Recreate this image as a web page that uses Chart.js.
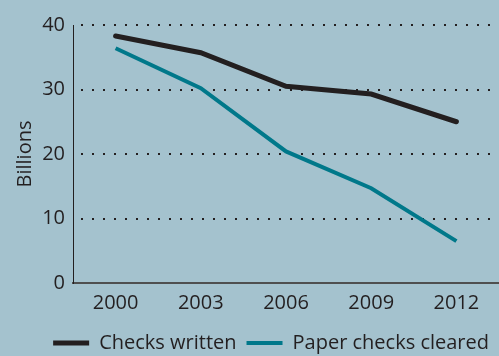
<!DOCTYPE html>
<html>
<head>
<meta charset="utf-8">
<script src="https://cdn.jsdelivr.net/npm/chart.js@4"></script>
<style>
  html, body { margin: 0; padding: 0; background: #a4c2ce; }
  canvas { display: block; }
</style>
</head>
<body>
<canvas id="c" width="499" height="356"></canvas>
<script>
const years = ['2000', '2003', '2006', '2009', '2012'];
const checksWritten = [38.3, 35.7, 30.5, 29.3, 25.0];
const paperChecksCleared = [36.4, 30.2, 20.4, 14.7, 6.5];
const seriesNames = ['Checks written', 'Paper checks cleared'];
const yTicks = [0, 10, 20, 30, 40];

const ink = '#231f20';
const teal = '#00788a';
const FONT = 'Open Sans';

new Chart(document.getElementById('c'), {
  type: 'line',
  data: {
    labels: years,
    datasets: [
      { label: seriesNames[0], data: checksWritten, borderColor: ink, backgroundColor: ink,
        borderWidth: 5, pointRadius: 0, tension: 0, borderCapStyle: 'round', borderJoinStyle: 'miter' },
      { label: seriesNames[1], data: paperChecksCleared, borderColor: teal, backgroundColor: teal,
        borderWidth: 4, pointRadius: 0, tension: 0, borderCapStyle: 'butt', borderJoinStyle: 'miter' }
    ]
  },
  options: {
    responsive: false,
    devicePixelRatio: 1,
    animation: false,
    layout: { padding: { top: 25, right: 0, bottom: -7, left: 0 } },
    plugins: {
      tooltip: { enabled: false },
      legend: {
        position: 'bottom',
        align: 'end',
        labels: {
          usePointStyle: true,
          pointStyle: 'line',
          pointStyleWidth: 36,
          padding: 10,
          color: ink,
          font: { family: FONT, size: 20 }
        }
      }
    },
    scales: {
      x: {
        offset: true,
        grid: { display: false, drawTicks: false },
        border: { display: true, color: '#4f4f4f', width: 2 },
        ticks: { color: ink, padding: 8, font: { family: FONT, size: 20 } },
        afterFit: s => { s.height = 40; }
      },
      y: {
        min: yTicks[0],
        max: yTicks[yTicks.length - 1],
        afterBuildTicks: s => { s.ticks = yTicks.map(v => ({ value: v })); },
        grid: {
          drawTicks: false,
          lineWidth: 2,
          color: c => (c.tick && c.tick.value === 0) ? 'rgba(0,0,0,0)' : ink
        },
        border: { display: true, color: ink, width: 1, dash: [2, 9], dashOffset: 4 },
        ticks: { color: ink, padding: 8, font: { family: FONT, size: 20 } },
        title: { display: true, text: 'Billions', color: ink, font: { family: FONT, size: 20 }, padding: { top: 13, bottom: 0 } },
        afterFit: s => { s.width = 73; }
      }
    }
  }
});
</script>
</body>
</html>
